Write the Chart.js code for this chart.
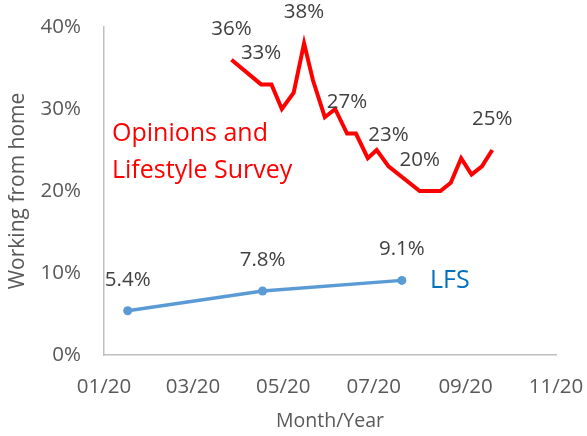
<!DOCTYPE html>
<html><head><meta charset="utf-8">
<script src="https://cdn.jsdelivr.net/npm/chart.js@4/dist/chart.umd.min.js"></script>
<style>html,body{margin:0;padding:0;background:#fff}#wrap{width:587px;height:436px}</style>
</head><body><div id="wrap"><canvas id="c" width="587" height="436"></canvas></div>
<script>
// Day offsets from 1 Jan 2020
const olsDays = [86,106,113,120,128,135,141,149,156,164,170,178,184,192,213,227,234,241,248,255,262];
const olsValues = [36,33,33,30,32,38,33.5,29,30,27,27,24,25,23,20,20,21,24,22,23,25];
const olsLabelled = [0,1,5,9,13,14,20];
const lfsDays = [16,107,201];
const lfsValues = [5.4,7.8,9.1];
const lfsLabelled = [0,1,2];
const xTickDays = [0,60,121,182,244,305];
const xTickLabels = ['01/20','03/20','05/20','07/20','09/20','11/20'];
const yTicks = [0,10,20,30,40];

const FONT = "'Open Sans', sans-serif";
const notes = [
  {text:'Opinions and', day:5.4, pct:27.0, color:'#FF0000'},
  {text:'Lifestyle Survey', day:5.4, pct:22.5, color:'#FF0000'},
  {text:'LFS', day:220, pct:9.1, color:'#0070C0'}
];

const labelPlugin = {
  id:'dl',
  afterDatasetsDraw(chart){
    const ctx = chart.ctx;
    ctx.save();
    ctx.font = "20.5px " + FONT;
    ctx.fillStyle = '#404040';
    ctx.textAlign = 'center';
    ctx.textBaseline = 'middle';
    chart.data.datasets.forEach((ds,i)=>{
      const meta = chart.getDatasetMeta(i);
      ds.labelIdx.forEach(k=>{
        const el = meta.data[k];
        const v = ds.data[k].y;
        ctx.fillText(ds.fmt(v), el.x, el.y - 31);
      });
    });
    ctx.font = "25px " + FONT;
    ctx.textAlign = 'left';
    notes.forEach(n=>{
      ctx.fillStyle = n.color;
      ctx.fillText(n.text, chart.scales.x.getPixelForValue(n.day), chart.scales.y.getPixelForValue(n.pct));
    });
    ctx.restore();
  }
};

new Chart(document.getElementById('c'), {
  type:'line',
  data:{
    datasets:[
      {
        label:'Opinions and Lifestyle Survey',
        data: olsDays.map((d,i)=>({x:d,y:olsValues[i]})),
        borderColor:'#FF0000', borderWidth:4, pointRadius:0, tension:0,
        labelIdx: olsLabelled, fmt: v=>Math.round(v)+'%'
      },
      {
        label:'LFS',
        data: lfsDays.map((d,i)=>({x:d,y:lfsValues[i]})),
        borderColor:'#5B9BD5', backgroundColor:'#5B9BD5', borderWidth:3.5,
        pointRadius:4.5, pointBorderWidth:0, tension:0,
        labelIdx: lfsLabelled, fmt: v=>v.toFixed(1)+'%'
      }
    ]
  },
  options:{
    responsive:false, animation:false, devicePixelRatio:1,
    layout:{padding:{left:0, right:31, top:27, bottom:0}},
    plugins:{legend:{display:false}, tooltip:{enabled:false}},
    scales:{
      x:{
        type:'linear', min:0, max:305,
        afterBuildTicks: s => { s.ticks = xTickDays.map(v=>({value:v})); },
        afterFit: s => { s.height = 81; s.paddingLeft = 0; s.paddingRight = 0; },
        grid:{display:false, drawTicks:false},
        border:{display:true, color:'#BFBFBF', width:1.5},
        ticks:{padding:20, color:'#595959', font:{family:FONT, size:20.5},
          callback:(v)=>{const i = xTickDays.indexOf(v); return i>=0 ? xTickLabels[i] : '';}, maxRotation:0, autoSkip:false},
        title:{display:true, text:'Month/Year', color:'#595959', font:{family:FONT, size:19.5}, padding:{top:0,bottom:3}}
      },
      y:{
        type:'linear', min:0, max:40,
        afterBuildTicks: s => { s.ticks = yTicks.map(v=>({value:v})); },
        afterFit: s => { s.width = 104; s.paddingTop = 0; s.paddingBottom = 0; },
        grid:{display:false, drawTicks:false},
        border:{display:true, color:'#BFBFBF', width:1.5},
        ticks:{padding:23, color:'#595959', font:{family:FONT, size:20.5}, callback:v=>v+'%'},
        title:{display:true, text:'Working from home', color:'#595959', font:{family:FONT, size:21}, padding:{top:5,bottom:0}}
      }
    }
  },
  plugins:[labelPlugin]
});
</script></body></html>
